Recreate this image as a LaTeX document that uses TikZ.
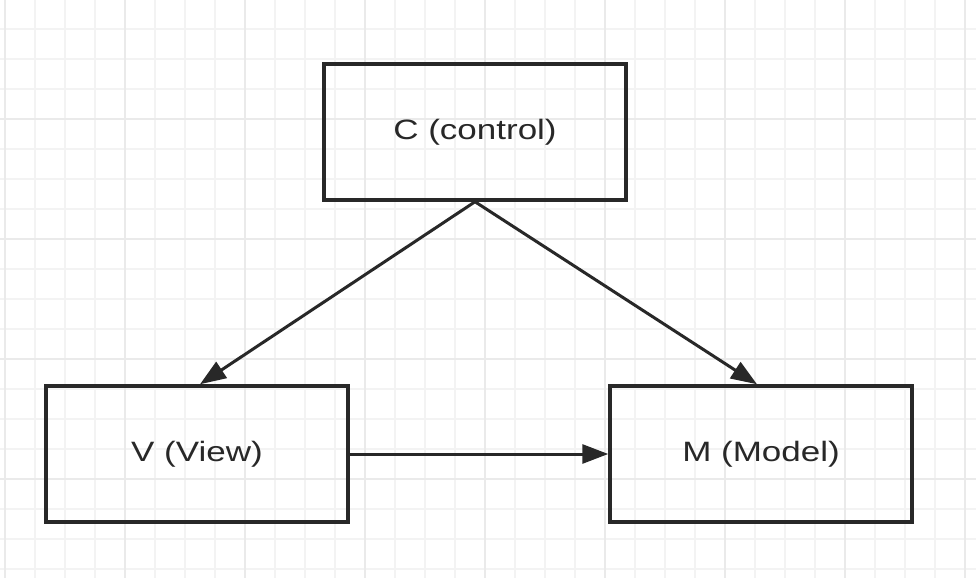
\documentclass[tikz,border=0pt]{standalone}
\usepackage{fontspec}
\usetikzlibrary{arrows.meta}
\newfontfamily\lblfont[FakeStretch=1.25]{Liberation Sans}
\definecolor{ink}{RGB}{40,40,40}
\definecolor{gridminor}{RGB}{243,243,243}
\definecolor{gridmajor}{RGB}{234,234,234}
\tikzset{
  boxnode/.style={draw=ink, line width=3.5pt, minimum width=302pt, minimum height=136pt,
    inner sep=0pt, font=\lblfont\fontsize{28pt}{30pt}\selectfont, text=ink},
  conn/.style={draw=ink, line width=3pt, -{Triangle[length=26pt,width=19pt]}},
  gminor/.style={draw=gridminor, line width=2pt},
  gmajor/.style={draw=gridmajor, line width=2pt}
}
\begin{document}
\begin{tikzpicture}[x=1pt,y=-1pt]
\useasboundingbox (0,0) rectangle (976,578);
\fill[white] (0,0) rectangle (976,578);
% grid
\foreach \k in {0,...,32} {\draw[gminor] ({5+30*\k},0) -- ({5+30*\k},578);}
\foreach \k in {0,...,18} {\draw[gminor] (0,{29+30*\k}) -- (976,{29+30*\k});}
\foreach \k in {0,...,8} {\draw[gmajor] ({5+120*\k},0) -- ({5+120*\k},578);}
\foreach \k in {1,...,4} {\draw[gmajor] (0,{-1+120*\k}) -- (976,{-1+120*\k});}
% nodes
\node[boxnode] (C) at (475,132) {\raisebox{-2pt}{C (control)}};
\node[boxnode] (V) at (197,454) {\raisebox{-2pt}{V (View)}};
\node[boxnode] (M) at (761,454) {\raisebox{-2pt}{M (Model)}};
% connectors
\draw[conn] (C.south) -- ([xshift=3pt]V.north);
\draw[conn] (C.south) -- ([xshift=-4pt]M.north);
\draw[conn] (V.east) -- (M.west);
\end{tikzpicture}
\end{document}
